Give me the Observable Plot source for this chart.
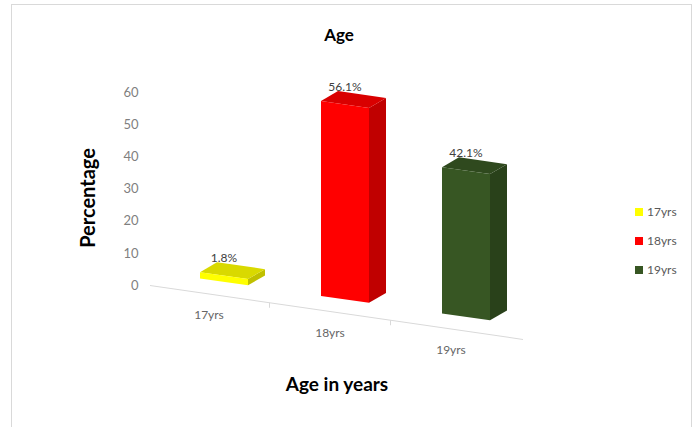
<!DOCTYPE html>
<html>
<head>
<meta charset="utf-8">
<script src="https://cdn.jsdelivr.net/npm/d3@7"></script>
<script src="https://cdn.jsdelivr.net/npm/@observablehq/plot@0.6"></script>
<style>
  body { margin: 0; background: #fff; font-family: Lato, "Open Sans", sans-serif; }
  #wrap { position: relative; width: 698px; height: 427px; overflow: hidden; }
  #border { position: absolute; left: 11px; top: 4px; width: 679px; height: 460px; border: 1px solid #d9d9d9; }
  #title { position: absolute; left: 0; top: 24px; width: 678px; text-align: center; font-weight: bold; font-size: 17px; color: #000; }
  #chart { position: absolute; left: 0; top: 0; }
  #legend { position: absolute; left: 635px; top: 197px; font-size: 12px; color: #595959; }
  #legend .item { height: 29px; display: flex; align-items: center; }
  #legend .sw { width: 8px; height: 8px; margin-right: 4px; }
</style>
</head>
<body>
<div id="wrap">
  <div id="border"></div>
  <div id="chart"></div>
  <div id="title">Age</div>
  <div id="legend"></div>
</div>
<script>
// ---- data ----
const ages = ["17yrs", "18yrs", "19yrs"];
const percents = [1.8, 56.1, 42.1];
const valueLabels = ["1.8%", "56.1%", "42.1%"];
const yTicks = [0, 10, 20, 30, 40, 50, 60];
const colors = ["#ffff00", "#ff0000", "#375623"];

const data = ages.map((a, i) => ({age: a, pct: percents[i], label: valueLabels[i]}));

// ---- perspective view (3D look) ----
const K = 0.1446;   // slope of the floor
const S = 1.08;     // vertical stretch of the bars
const TY = -58.3;   // vertical offset of the bar plane
const DX = 17, DY = -11.5; // bar depth
const LABEL_SHIFT = -15;
const svgNS = "http://www.w3.org/2000/svg";

function wrapIn(node, transform) {
  const w = document.createElementNS(svgNS, "g");
  w.setAttribute("transform", transform);
  w.appendChild(node);
  return w;
}

function barRender(index, scales, values, dims, ctx, next) {
  const g = next(index, scales, values, dims, ctx);
  for (const r of Array.from(g.querySelectorAll("rect"))) {
    const x = +r.getAttribute("x"), y = +r.getAttribute("y");
    const w = +r.getAttribute("width"), h = +r.getAttribute("height");
    const c = d3.color(r.getAttribute("fill"));
    const side = document.createElementNS(svgNS, "polygon");
    side.setAttribute("points", `${x + w},${y} ${x + w + DX},${y + DY} ${x + w + DX},${y + h + DY} ${x + w},${y + h}`);
    side.setAttribute("fill", c.darker(0.8).formatHex());
    const top = document.createElementNS(svgNS, "polygon");
    top.setAttribute("points", `${x},${y} ${x + DX},${y + DY} ${x + w + DX},${y + DY} ${x + w},${y}`);
    top.setAttribute("fill", c.darker(0.45).formatHex());
    r.parentNode.insertBefore(side, r);
    r.parentNode.insertBefore(top, r);
  }
  return wrapIn(g, `matrix(1,${K},0,${S},0,${TY})`);
}

function floorRender(index, scales, values, dims, ctx, next) {
  const g = next(index, scales, values, dims, ctx);
  const bw = scales.x.bandwidth();
  const centers = ages.map(a => scales.x(a) + bw / 2 + LABEL_SHIFT);
  const y0 = scales.y(0);
  for (let i = 0; i < centers.length - 1; i++) {
    const xs = (centers[i] + centers[i + 1]) / 2;
    const l = document.createElementNS(svgNS, "line");
    l.setAttribute("x1", xs); l.setAttribute("x2", xs);
    l.setAttribute("y1", y0); l.setAttribute("y2", y0 + 5);
    l.setAttribute("stroke", "#d9d9d9");
    g.appendChild(l);
  }
  return wrapIn(g, `matrix(1,${K},0,1,0,${-K * dims.marginLeft})`);
}

function valueLabelRender(index, scales, values) {
  const bw = scales.x.bandwidth();
  const g = d3.create("svg:g").attr("font-size", 12).attr("fill", "#404040").attr("text-anchor", "middle");
  for (const i of index) {
    const x = values.x[i] + bw / 2;
    const y = values.y[i];
    g.append("text").attr("x", x).attr("y", K * x + S * y + TY - 17).attr("dy", "0.32em").text(values.text[i]);
  }
  return g.node();
}

function catLabelRender(index, scales, values, dims) {
  const bw = scales.x.bandwidth();
  const y0 = scales.y(0);
  const g = d3.create("svg:g").attr("font-size", 12).attr("fill", "#666").attr("text-anchor", "middle");
  for (const i of index) {
    const x = values.x[i] + bw / 2 + LABEL_SHIFT;
    g.append("text").attr("x", x).attr("y", y0 + K * (x - dims.marginLeft) + 22).attr("dy", "0.32em").text(values.text[i]);
  }
  return g.node();
}

const chart = Plot.plot({
  width: 698,
  height: 427,
  marginLeft: 150,
  marginRight: 175,
  marginTop: 92,
  marginBottom: 142,
  style: {fontFamily: "Lato, 'Open Sans', sans-serif", fontSize: "13px", color: "#7f7f7f", background: "transparent"},
  x: {domain: ages, type: "band", paddingInner: 0.6, paddingOuter: 0.34, align: 0.61, axis: null},
  y: {domain: [0, 60], ticks: yTicks, tickSize: 0, tickPadding: 12, label: null},
  color: {domain: ages, range: colors},
  marks: [
    Plot.ruleY([0], {stroke: "#d9d9d9", render: floorRender}),
    Plot.barY(data, {x: "age", y: "pct", fill: "age", render: barRender}),
    Plot.text(data, {x: "age", y: "pct", text: "label", render: valueLabelRender}),
    Plot.text(data, {x: "age", text: "age", render: catLabelRender}),
    Plot.text(["Percentage"], {frameAnchor: "left", textAnchor: "middle", rotate: -90, dx: -62, dy: 9, fontSize: 20, fontWeight: "bold", fill: "#000"}),
    Plot.text(["Age in years"], {frameAnchor: "bottom", dy: 105, fontSize: 19, fontWeight: "bold", fill: "#000"})
  ]
});
document.getElementById("chart").appendChild(chart);

// legend
const legend = document.getElementById("legend");
ages.forEach((a, i) => {
  const item = document.createElement("div");
  item.className = "item";
  const sw = document.createElement("span");
  sw.className = "sw";
  sw.style.background = colors[i];
  const t = document.createElement("span");
  t.textContent = a;
  item.appendChild(sw);
  item.appendChild(t);
  legend.appendChild(item);
});
</script>
</body>
</html>
